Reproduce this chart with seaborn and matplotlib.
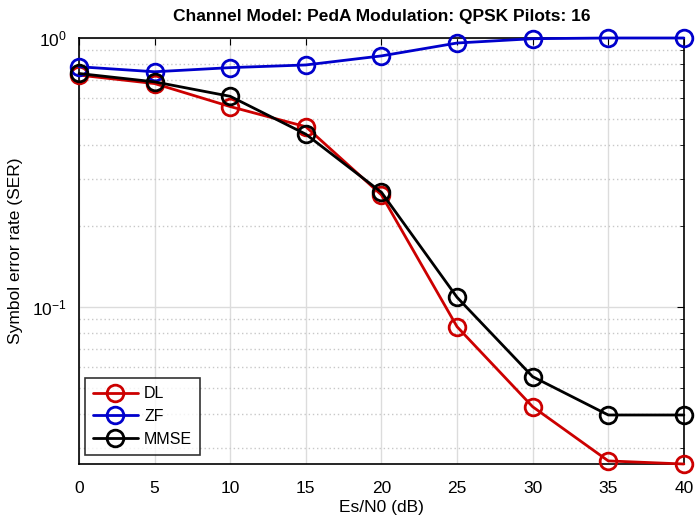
import numpy as np
import pandas as pd
import matplotlib
matplotlib.use("Agg")
import matplotlib.pyplot as plt
import seaborn as sns
from matplotlib.ticker import LogLocator, NullFormatter

snr = [0, 5, 10, 15, 20, 25, 30, 35, 40]
ser_dl = [0.728, 0.677, 0.556, 0.468, 0.261, 0.0845, 0.0426, 0.0268, 0.0261]
ser_zf = [0.782, 0.749, 0.776, 0.794, 0.858, 0.958, 0.994, 1.0, 1.0]
ser_mmse = [0.738, 0.687, 0.607, 0.439, 0.267, 0.1087, 0.0551, 0.0397, 0.0397]
series = ["DL", "ZF", "MMSE"]
colors = ["#cc0000", "#0000cc", "#000000"]

df = pd.DataFrame({
    "snr": snr * 3,
    "ser": ser_dl + ser_zf + ser_mmse,
    "method": [s for s in series for _ in snr],
})

sns.set_style("white")
plt.rcParams["font.family"] = ["Liberation Sans", "DejaVu Sans"]
plt.rcParams["mathtext.fontset"] = "custom"
plt.rcParams["mathtext.rm"] = "Liberation Sans"
plt.rcParams["text.color"] = "black"
plt.rcParams["axes.labelcolor"] = "black"

fig = plt.figure(figsize=(6.95, 5.17), dpi=100)
ax = fig.add_axes([0.1137, 0.1025, 0.984 - 0.1137, 0.9265 - 0.1025])

sns.lineplot(data=df, x="snr", y="ser", hue="method", hue_order=series,
             palette=colors, marker="o", markersize=12, markerfacecolor="none",
             markeredgewidth=2, linewidth=2, ax=ax, clip_on=False, zorder=3)
for ln, c in zip(ax.lines, colors):
    ln.set_markeredgecolor(c)

ax.set_yscale("log")
ax.set_xlim(0, 40)
ax.set_ylim(0.0261, 1.0)
ax.set_xticks(range(0, 41, 5))
ax.yaxis.set_major_locator(LogLocator(base=10, numticks=10))
ax.yaxis.set_minor_locator(LogLocator(base=10, subs=np.arange(2, 10), numticks=20))
ax.yaxis.set_minor_formatter(NullFormatter())

ax.grid(True, which="major", color="#dcdcdc", linewidth=1, linestyle="-")
ax.grid(True, which="minor", axis="y", color="#c8c8c8", linewidth=1, linestyle=(0, (1, 2)))
ax.set_axisbelow(True)

ax.tick_params(axis="both", which="both", direction="in", top=True, right=True,
               labelsize=12.5, colors="black")
ax.tick_params(which="major", length=5)
ax.tick_params(which="minor", length=3)
ax.tick_params(axis="x", which="major", pad=12)
ax.tick_params(axis="y", which="major", pad=9)
for s in ax.spines.values():
    s.set_color("black")
    s.set_linewidth(1.2)

ax.set_xlabel("Es/N0 (dB)", fontsize=12.5, labelpad=3, color="black")
ax.set_ylabel("Symbol error rate (SER)", fontsize=12.5, labelpad=6, color="black")
ax.set_title("Channel Model: PedA Modulation: QPSK Pilots: 16", fontsize=12.5,
             fontweight="bold", pad=12, color="black")

leg = ax.legend(loc="lower left", bbox_to_anchor=(0.01, 0.021), borderaxespad=0,
                fontsize=11.5, frameon=True, fancybox=False, edgecolor="black",
                handlelength=2.8, borderpad=0.5, labelspacing=0.5, handletextpad=0.4)
leg.get_frame().set_linewidth(1.2)
for t in leg.get_texts():
    t.set_color("black")
for h, c in zip(leg.get_lines(), colors):
    h.set_markerfacecolor("none")
    h.set_markeredgecolor(c)
    h.set_markersize(12)
    h.set_markeredgewidth(2)

fig.savefig("out.png", dpi=100)
